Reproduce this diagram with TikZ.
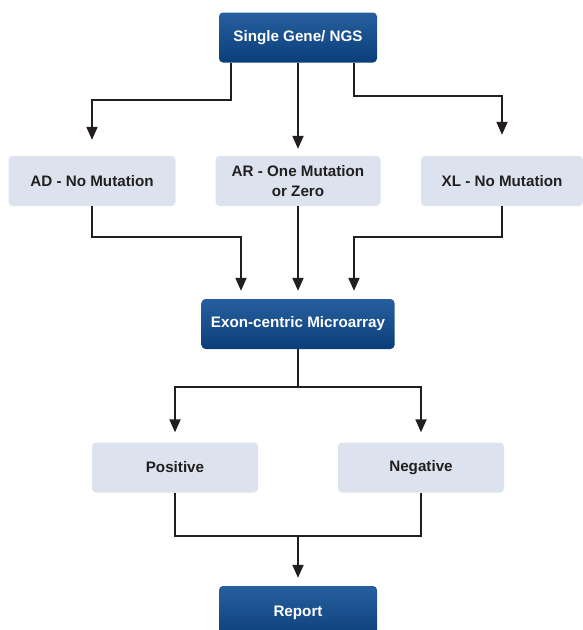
\documentclass[tikz,border=0pt]{standalone}
\usepackage{fontspec}
\setmainfont{Liberation Sans}
\usetikzlibrary{arrows.meta,positioning,calc}
\definecolor{bluetop}{HTML}{275F9E}
\definecolor{bluebot}{HTML}{0A3E7A}
\definecolor{boxgrey}{HTML}{DCE3EE}
\definecolor{inkgrey}{HTML}{231F20}
\begin{document}
\begin{tikzpicture}
[x=1pt,y=-1pt,
darkbox/.style={shape=rectangle,rounded corners=4pt,top color=bluetop,bottom color=bluebot,
  text=white,inner sep=0pt,minimum height=50pt,align=center,
  font=\fontsize{15.2}{19.5}\selectfont\bfseries},
lightbox/.style={shape=rectangle,rounded corners=4pt,fill=boxgrey,text=inkgrey,
  inner sep=0pt,minimum height=50pt,align=center,
  font=\fontsize{15.2}{19.5}\selectfont\bfseries},
myline/.style={line width=2pt,draw=inkgrey},
myarrow/.style={myline,-{Triangle[length=13pt,width=11pt]}}]
\useasboundingbox (0,0) rectangle (583,630);
\clip (0,0) rectangle (583,630);
%%
\node (sg) [darkbox,minimum width=158pt] at (298,37.5) {Single Gene/ NGS};
\node (ad) [lightbox,minimum width=167pt] at (92,181) {AD - No Mutation};
\node (ar) [lightbox,minimum width=165pt] at (298,181) {AR - One Mutation\\or Zero};
\node (xl) [lightbox,minimum width=162pt] at (502,181) {XL - No Mutation};
\draw[myarrow,shorten >=16pt] ([xshift=-67pt]sg.south) -- ++(0,37.5) -| (ad.north);
\draw[myarrow,shorten >=7pt] (sg) -- (ar);
\draw[myarrow,shorten >=21pt] ([xshift=56pt]sg.south) -- ++(0,33.5) -| (xl.north);
%%
\node (ex) [darkbox,minimum width=193pt] at (298,324) {Exon-centric Microarray};
\draw[myarrow,shorten >=8pt] (ad.south) -- ++(0,31) -| ([xshift=-57pt]ex.north);
\draw[myarrow,shorten >=8pt] (ar) -- (ex);
\draw[myarrow,shorten >=8pt] (xl.south) -- ++(0,31) -| ([xshift=56pt]ex.north);
%%
\node (pos) [lightbox,minimum width=166pt] at (175,467.5) {Positive};
\node (neg) [lightbox,minimum width=166pt] at (421,467.5) {Negative};
\draw[myarrow,shorten >=10pt] (ex.south) -- ++(0,38) -| (pos.north);
\draw[myarrow,shorten >=10pt] (ex.south) -- ++(0,38) -| (neg.north);
%%
\node (rep) [darkbox,minimum width=158pt,minimum height=54pt] at (298,613) {Report};
\draw[myline] (pos.south) -- ++(0,43) coordinate (join) -| (neg.south);
\draw[myarrow,shorten >=8pt] (join -| rep.north) -- (rep.north);
\end{tikzpicture}
\end{document}
